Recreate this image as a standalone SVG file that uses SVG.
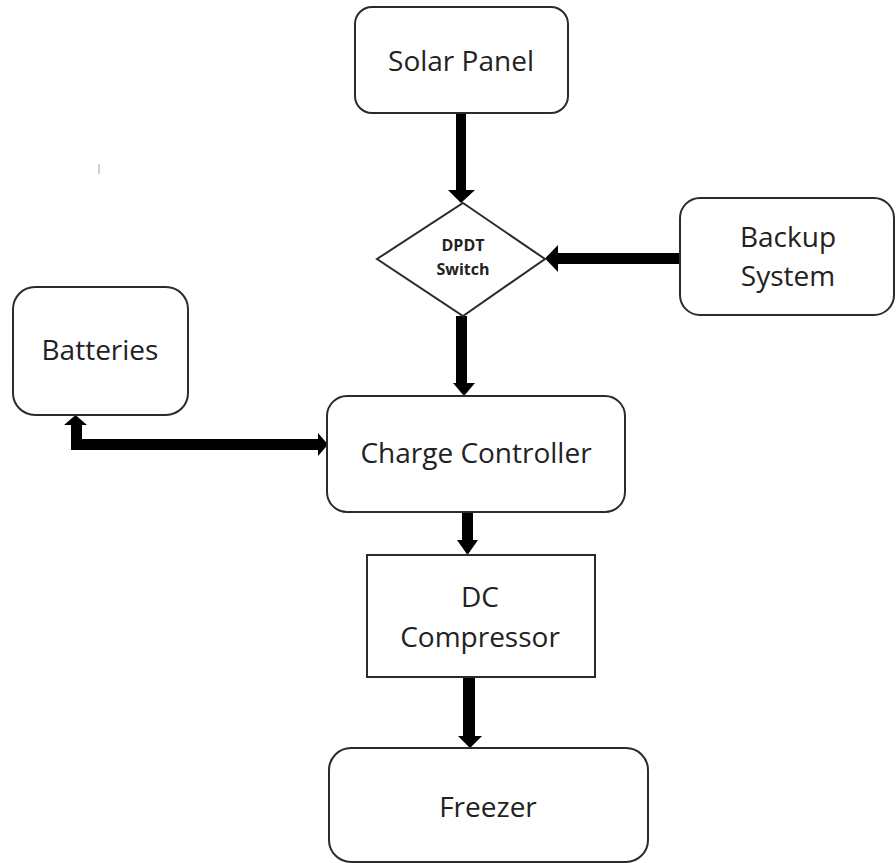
<svg xmlns="http://www.w3.org/2000/svg" width="896" height="863" viewBox="0 0 896 863">
<style>
.box{fill:#fff;stroke:#2b2b2b;stroke-width:2}
.t{font-family:"Open Sans","Liberation Sans",sans-serif;font-size:28px;fill:#222;text-anchor:middle}
.tb{font-family:"Open Sans","Liberation Sans",sans-serif;font-size:16px;font-weight:bold;fill:#222;text-anchor:middle}
.arr{fill:#000}
</style>
<rect width="896" height="863" fill="#fff"/>
<rect x="98" y="164" width="2" height="10" fill="#cfcfcf"/>
<g id="connectors">
<path class="arr" d="M456,113 H466 V190 H475 L461,203 L448,190 H456 Z"/>
<path class="arr" d="M680,253 H558 V245 L545,258.5 L558,272 V264 H680 Z"/>
<path class="arr" d="M456,316 H467 V383 H475 L464,396 L453,383 H456 Z"/>
<path class="arr" d="M71,425 H64 L75.5,415 L87,425 H82 V439 H318 V433 L328,444.5 L318,456 V450 H71 Z"/>
<path class="arr" d="M462,512 H473 V540 H478 L467.5,555 L457,540 H462 Z"/>
<path class="arr" d="M463,677 H475 V736 H482 L470,748 L458,736 H463 Z"/>
</g>
<g id="solar-panel">
<rect class="box" x="355" y="7" width="213" height="106" rx="17"/>
<text class="t" x="461" y="71">Solar Panel</text>
</g>
<g id="dpdt-switch">
<polygon class="box" points="463,203 545,259 463,316 377,259"/>
<text class="tb" x="463" y="251">DPDT</text>
<text class="tb" x="463" y="275">Switch</text>
</g>
<g id="backup-system">
<rect class="box" x="680" y="198" width="214" height="117" rx="20"/>
<text class="t" x="788" y="247">Backup</text>
<text class="t" x="788" y="286">System</text>
</g>
<g id="batteries">
<rect class="box" x="13" y="287" width="175" height="128" rx="22"/>
<text class="t" x="100" y="360">Batteries</text>
</g>
<g id="charge-controller">
<rect class="box" x="327" y="396" width="298" height="116" rx="20"/>
<text class="t" x="476" y="463">Charge Controller</text>
</g>
<g id="dc-compressor">
<rect class="box" x="367" y="555" width="228" height="122"/>
<text class="t" x="480" y="607">DC</text>
<text class="t" x="480" y="647">Compressor</text>
</g>
<g id="freezer">
<rect class="box" x="329" y="748" width="319" height="114" rx="22"/>
<text class="t" x="488" y="817">Freezer</text>
</g>
</svg>
